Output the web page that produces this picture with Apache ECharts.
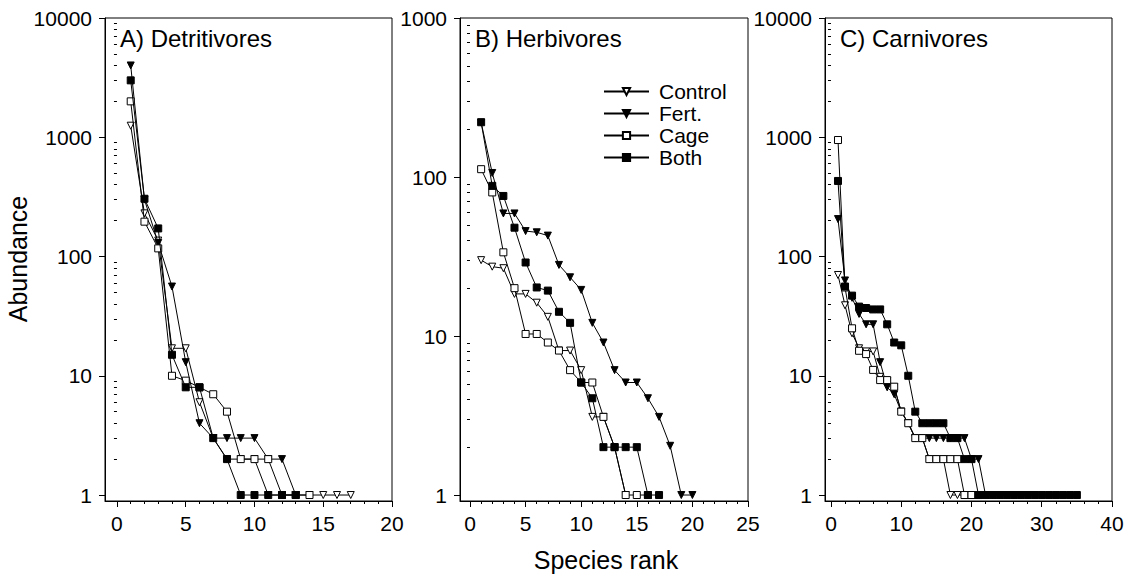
<!DOCTYPE html>
<html><head><meta charset="utf-8">
<script src="https://cdn.jsdelivr.net/npm/echarts@6/dist/echarts.min.js"></script>
<style>html,body{margin:0;padding:0;background:#fff}#c{width:1128px;height:578px}</style>
</head><body><div id="c"></div>
<script>
// ---------- DATA ----------
const seriesNames = ['Control', 'Fert.', 'Cage', 'Both'];
const panelTitles = ['A) Detritivores', 'B) Herbivores', 'C) Carnivores'];
const xAxisTitle = 'Species rank';
const yAxisTitle = 'Abundance';

// A) Detritivores (abundance by species rank 1..n)
const detControl = [1250, 230, 136, 17, 17, 6, 3, 2, 2, 2, 1, 1, 1, 1, 1, 1, 1];
const detFert    = [4000, 300, 130, 56, 13, 4, 3, 3, 3, 3, 2, 2, 1];
const detCage    = [2000, 196, 117, 10, 9.1, 8, 7, 5, 2, 2, 2, 1, 1, 1];
const detBoth    = [3000, 305, 172, 15, 8, 8, 3, 2, 1, 1, 1, 1, 1];

// B) Herbivores
const herControl = [30, 27.3, 26.7, 18.4, 18.4, 16.2, 13.2, 8.1, 8.1, 6.1, 3.1, 3.1, 2, 1];
const herFert    = [220, 106, 59, 59, 45.7, 44.9, 42.8, 28, 23.4, 19.5, 12.1, 9.1, 6.1, 5.1, 5.1, 4.06, 3.1, 2.04, 1, 1];
const herCage    = [112, 80, 33.6, 20, 10.3, 10.3, 9.1, 8.1, 6.1, 5.1, 5.1, 3.1, 2, 1, 1, 1];
const herBoth    = [221, 88, 76, 48, 29, 20.2, 19.3, 14.2, 12.1, 5.1, 4.06, 2, 2, 2, 2, 1, 1];

// C) Carnivores
const carControl = [70, 39, 22.7, 17, 16, 16, 9.8, 9, 8, 5, 4, 3, 3, 2, 2, 2, 1, 1, 1, 1, 1, 1, 1, 1, 1, 1, 1, 1];
const carFert    = [206, 63, 45, 33, 27, 27, 13, 8, 7, 5, 4, 3, 3, 3, 3, 3, 3, 3, 3, 2, 2, 1, 1, 1, 1, 1, 1, 1, 1];
const carCage    = [948, 55, 25, 16.2, 15.2, 11.2, 9.2, 9.2, 8.1, 5, 4, 3, 3, 2, 2, 2, 2, 2, 1, 1, 1];
const carBoth    = [430, 56, 47, 38, 37, 36, 36, 27, 19, 18, 10, 5, 4, 4, 4, 4, 3, 3, 2, 2, 1, 1, 1, 1, 1, 1, 1, 1, 1, 1, 1, 1, 1, 1, 1];

// tick labels
const xTicksA = [0, 5, 10, 15, 20];
const xTicksB = [0, 5, 10, 15, 20, 25];
const xTicksC = [0, 10, 20, 30, 40];
const yTicksA = [1, 10, 100, 1000, 10000];
const yTicksB = [1, 10, 100, 1000];
const yTicksC = [1, 10, 100, 1000, 10000];

// ---------- LAYOUT / STYLE ----------
const FONT = "'Liberation Sans', Arial, Helvetica, sans-serif";
const panels = [
  { title: panelTitles[0], data: [detControl, detFert, detCage, detBoth], xTicks: xTicksA, yTicks: yTicksA, xMinorStep: 1,
    left: 105, width: 287, xMin: -0.87, xMax: 20, yMin: 0.891, yMax: 10000 },
  { title: panelTitles[1], data: [herControl, herFert, herCage, herBoth], xTicks: xTicksB, yTicks: yTicksB, xMinorStep: 1,
    left: 460, width: 288, xMin: -0.9, xMax: 25, yMin: 0.917, yMax: 1000 },
  { title: panelTitles[2], data: [carControl, carFert, carCage, carBoth], xTicks: xTicksC, yTicks: yTicksC, xMinorStep: 2,
    left: 825, width: 287, xMin: -0.85, xMax: 40, yMin: 0.891, yMax: 10000 }
];
const GRID_TOP = 18, GRID_H = 483;

const downTri = 'path://M0,0L10,0L5,9Z';
const markStyles = [
  { symbol: downTri, fill: '#fff' },
  { symbol: downTri, fill: '#000' },
  { symbol: 'rect', fill: '#fff' },
  { symbol: 'rect', fill: '#000' }
];

function minorValues(min, max, step, majors) {
  const out = [];
  for (let v = Math.ceil(min / step) * step; v <= max + 1e-9; v += step) {
    if (majors.indexOf(v) < 0) out.push(v);
  }
  return out;
}
function logMinor(maxDecade) {
  const out = [];
  for (let d = 1; d < maxDecade; d *= 10) for (let k = 2; k <= 9; k++) out.push(k * d);
  return out;
}

const grids = [], xAxes = [], yAxes = [], series = [], titles = [];
panels.forEach((p, i) => {
  grids.push({ left: p.left, top: GRID_TOP, width: p.width, height: GRID_H, show: true,
    borderColor: '#000', borderWidth: 1, backgroundColor: 'transparent', containLabel: false });
  xAxes.push({ type: 'value', gridIndex: i, min: p.xMin, max: p.xMax,
    axisLine: { show: true, onZero: false, lineStyle: { color: '#000', width: 1 } },
    axisTick: { show: true, length: 6, inside: false, customValues: p.xTicks, lineStyle: { color: '#000' } },
    axisLabel: { show: true, customValues: p.xTicks, margin: 12, color: '#000', fontSize: 21, fontFamily: FONT },
    splitLine: { show: false } });
  yAxes.push({ type: 'log', logBase: 10, gridIndex: i, min: p.yMin, max: p.yMax,
    axisLine: { show: true, onZero: false, lineStyle: { color: '#000', width: 1 } },
    axisTick: { show: true, length: 6, inside: false, customValues: p.yTicks, lineStyle: { color: '#000' } },
    axisLabel: { show: true, customValues: p.yTicks, margin: 13, color: '#000', fontSize: 21, fontFamily: FONT,
      formatter: v => String(Math.round(v)) },
    splitLine: { show: false } });
  titles.push({ text: p.title, left: p.left + 15, top: 26, padding: 0,
    textStyle: { fontSize: 24, fontWeight: 'normal', color: '#000', fontFamily: FONT } });
  p.data.forEach((vals, s) => {
    series.push({
      type: 'line', name: seriesNames[s], xAxisIndex: i, yAxisIndex: i,
      data: vals.map((v, k) => [k + 1, v]),
      symbol: markStyles[s].symbol, symbolSize: 7, showSymbol: true,
      lineStyle: { color: '#000', width: 1 },
      itemStyle: { color: markStyles[s].fill, borderColor: '#000', borderWidth: 1 },
      emphasis: { disabled: true }, animation: false, z: 2 + s
    });
  });
});
// overlay grids for minor ticks
panels.forEach((p, i) => {
  const gi = grids.length;
  grids.push({ left: p.left, top: GRID_TOP, width: p.width, height: GRID_H, show: false });
  xAxes.push({ type: 'value', gridIndex: gi, min: p.xMin, max: p.xMax,
    axisLine: { show: false }, axisLabel: { show: false }, splitLine: { show: false },
    axisTick: { show: true, length: 3, customValues: minorValues(0, p.xMax, p.xMinorStep, p.xTicks), lineStyle: { color: '#000' } } });
  yAxes.push({ type: 'log', gridIndex: gi, min: p.yMin, max: p.yMax,
    axisLine: { show: false }, axisLabel: { show: false }, splitLine: { show: false },
    axisTick: { show: true, length: 3, customValues: logMinor(p.yMax), lineStyle: { color: '#000' } } });
});

const chart = echarts.init(document.getElementById('c'), null, { renderer: 'svg', width: 1128, height: 578 });
chart.setOption({
  backgroundColor: '#fff',
  animation: false,
  title: titles,
  grid: grids,
  xAxis: xAxes,
  yAxis: yAxes,
  legend: {
    data: seriesNames, orient: 'vertical', left: 598, top: 76, itemGap: 1,
    itemWidth: 45, itemHeight: 9, selectedMode: false,
    textStyle: { fontSize: 21, color: '#000', fontFamily: FONT, padding: [0, 0, 0, 5] }
  },
  series: series,
  graphic: [
    { type: 'text', x: 18, y: 259, rotation: Math.PI / 2,
      style: { text: yAxisTitle, fill: '#000', font: '25px ' + FONT, align: 'center', verticalAlign: 'middle' } },
    { type: 'text', x: 606, y: 560,
      style: { text: xAxisTitle, fill: '#000', font: '25px ' + FONT, align: 'center', verticalAlign: 'middle' } }
  ]
});
</script></body></html>
